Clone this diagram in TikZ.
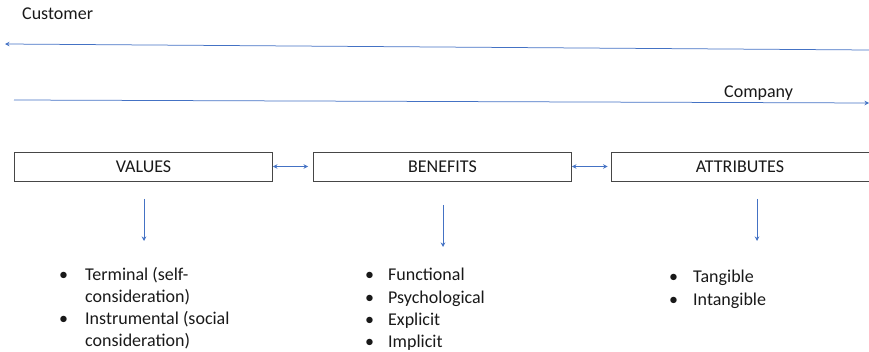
\documentclass[tikz,border=0pt]{standalone}
\usepackage{fontspec}
\setmainfont{Carlito}
\usetikzlibrary{arrows.meta}
\definecolor{linkblue}{RGB}{68,114,196}
\definecolor{framegray}{RGB}{70,70,70}
\definecolor{inktext}{RGB}{25,25,25}
\newcommand{\itemsfont}{\fontsize{18}{22.3}\selectfont}
\begin{document}
\begin{tikzpicture}[x=1pt,y=-1pt,
  tip/.style={-{Stealth[length=4.5pt,width=4.5pt]}},
  flow/.style={draw=linkblue, line width=0.75pt, tip},
  twoway/.style={draw=linkblue, line width=0.75pt,
    {Stealth[length=4.5pt,width=4.5pt]}-{Stealth[length=4.5pt,width=4.5pt]}},
  stagebox/.style={draw=framegray, line width=0.9pt, minimum width=258pt,
    minimum height=29pt, inner sep=0pt, text=inktext, font=\itemsfont},
  caption/.style={anchor=base west, inner sep=0pt, text=inktext, font=\itemsfont},
  itemlist/.style={anchor=base west, inner sep=0pt, text=inktext, font=\itemsfont}]
\useasboundingbox (0,0) rectangle (869,352);

% flow directions across the top
\coordinate (custR) at (869,50);
\coordinate (custL) at (5,44);
\coordinate (compL) at (14,100);
\coordinate (compR) at (869,103);
\node[caption] (customer) at (22,20) {Customer};
\node[caption] (company) at (724,98) {Company};
\draw[flow] (custR) -- (custL);
\draw[flow] (compL) -- (compR);

% the three stages
\node[stagebox] (values) at (143.5,166.5) {VALUES};
\node[stagebox] (benefits) at (442.5,166.5) {BENEFITS};
\node[stagebox] (attributes) at (740,166.5) {ATTRIBUTES};
\draw[twoway] (values.east) -- ([xshift=-5pt]benefits.west);
\draw[twoway] (benefits.east) -- ([xshift=-3pt]attributes.west);

% arrows down to the lists
\coordinate (vTop) at (144,199);
\coordinate (vBot) at (144,241);
\coordinate (bTop) at (443,205);
\coordinate (bBot) at (443,247);
\coordinate (aTop) at (757,199);
\coordinate (aBot) at (757,241);
\draw[flow] (vTop) -- (vBot);
\draw[flow] (bTop) -- (bBot);
\draw[flow] (aTop) -- (aBot);

% lists
\node[itemlist] (vlist) at (59,280) {\begin{tabular}[t]{@{}p{26pt}@{}l@{}}
  \textbullet & Terminal (self-\\
              & consideration)\\
  \textbullet & Instrumental (social\\
              & consideration)
\end{tabular}};
\node[itemlist] (blist) at (365,281) {\begin{tabular}[t]{@{}p{23pt}@{}l@{}}
  \textbullet & Functional\\
  \textbullet & Psychological\\
  \textbullet & Explicit\\
  \textbullet & Implicit
\end{tabular}};
\node[itemlist] (alist) at (669,283) {\begin{tabular}[t]{@{}p{24pt}@{}l@{}}
  \textbullet & Tangible\\
  \textbullet & Intangible
\end{tabular}};
\end{tikzpicture}
\end{document}
